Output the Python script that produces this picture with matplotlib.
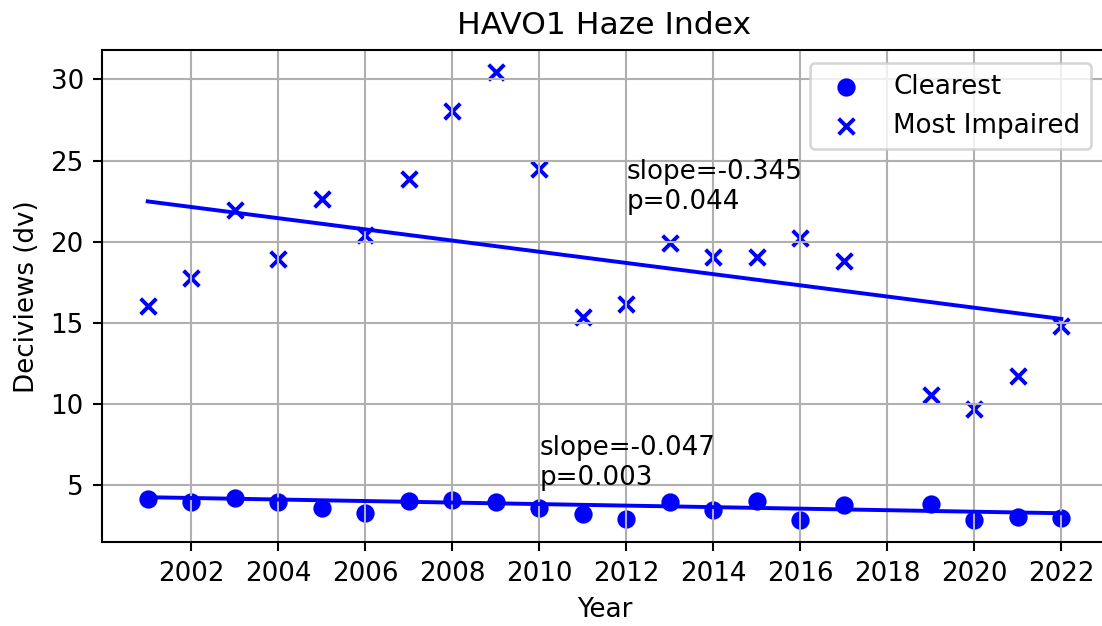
import matplotlib
matplotlib.use("Agg")
import matplotlib.pyplot as plt
import numpy as np

years = np.array([2001, 2002, 2003, 2004, 2005, 2006, 2007, 2008, 2009, 2010, 2011,
                  2012, 2013, 2014, 2015, 2016, 2017, 2019, 2020, 2021, 2022])
clearest = np.array([4.14, 3.95, 4.22, 3.97, 3.56, 3.29, 4.03, 4.07, 3.93, 3.60, 3.19,
                     2.90, 3.93, 3.46, 4.01, 2.84, 3.77, 3.81, 2.84, 3.04, 2.94])
impaired = np.array([16.02, 17.73, 21.98, 18.92, 22.6, 20.4, 23.83, 28.07, 30.43, 24.45, 15.37,
                     16.15, 19.94, 19.03, 19.07, 20.2, 18.8, 10.56, 9.67, 11.69, 14.8])

clear_slope, clear_p = -0.047, 0.003
imp_slope, imp_p = -0.345, 0.044


def sen_line(x, y, slope):
    # Sen's slope line through the medians
    b = np.median(y) - slope * np.median(x)
    return slope * x + b


dpi = 188
fig = plt.figure(figsize=(1102/dpi, 626/dpi), dpi=dpi)
ax = fig.add_subplot(111)
fig.subplots_adjust(left=0.0926, right=1.0045, top=0.920, bottom=0.1337)

ax.scatter(years, clearest, color="blue", marker="o", label="Clearest")
ax.scatter(years, impaired, color="blue", marker="x", label="Most Impaired")

ax.plot(years, sen_line(years, clearest, clear_slope), "b-")
ax.plot(years, sen_line(years, impaired, imp_slope), "b-")

ax.text(2010, 5, "slope=%.3f\np=%.3f" % (clear_slope, clear_p))
ax.text(2012, 22, "slope=%.3f\np=%.3f" % (imp_slope, imp_p))

ax.set_xticks(np.arange(2002, 2023, 2))
ax.grid()
ax.legend(loc="upper right", bbox_to_anchor=(0.997, 1.0))
ax.set_xlabel("Year")
ax.set_ylabel("Deciviews (dv)")
ax.set_title("HAVO1 Haze Index")

fig.savefig("out.png", dpi=dpi)
